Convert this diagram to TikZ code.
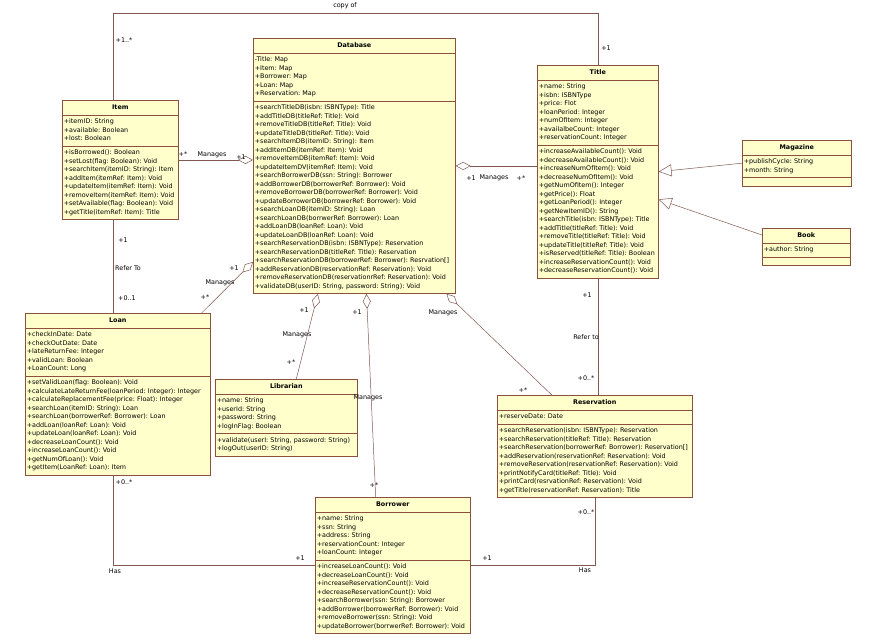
\documentclass[tikz,border=0pt]{standalone}
\usepackage{fontspec}
\setmainfont{DejaVu Sans}
\usetikzlibrary{shapes.multipart,arrows.meta,calc}
\definecolor{umlfill}{RGB}{255,255,204}
\definecolor{umlline}{RGB}{140,80,60}
\definecolor{linkcol}{RGB}{128,90,80}
\newcommand{\cname}[1]{\hbox to\hsize{\hfil\rule[-2.5pt]{0pt}{9pt}\textbf{#1}\hfil}}
\frenchspacing
\begin{document}
\begin{tikzpicture}[x=1pt,y=-1pt,font=\fontsize{6.4}{8.5}\selectfont,
  cls/.style={rectangle split,rectangle split parts=3,draw=umlline,fill=umlfill,
    anchor=north west,inner xsep=1.5pt,inner ysep=2.5pt,align=left,line width=0.6pt},
  link/.style={draw=linkcol,line width=0.5pt},
  agg/.style={link,{Diamond[open,length=15pt,width=8pt]}-},
  gen/.style={link,-{Triangle[open,length=13pt,width=12pt]}},
  lbl/.style={inner sep=1pt}]
  \fill[white] (0,0) rectangle (870,642);
  \useasboundingbox (0,0) rectangle (870,642);
  % classes
  \node[cls,text width=199pt] (db) at (253,38) {\cname{Database}
    \nodepart{two}\strut-Title: Map\\+Item: Map\\+Borrower: Map\\+Loan: Map\\+Reservation: Map\strut
    \nodepart{three}\strut+searchTitleDB(isbn: ISBNType): Title\\+addTitleDB(titleRef: Title): Void\\
    +removeTitleDB(titleRef: Title): Void\\+updateTitleDB(titleRef: Title): Void\\
    +searchItemDB(itemID: String): Item\\+addItemDB(itemRef: Item): Void\\
    +removeItemDB(itemRef: Item): Void\\+updateItemDV(itemRef: Item): Void\\
    +searchBorrowerDB(ssn: String): Borrower\\+addBorrowerDB(borrowerRef: Borrower): Void\\
    +removeBorrowerDB(borrowerRef: Borrower): Void\\+updateBorrowerDB(borrowerRef: Borrower): Void\\
    +searchLoanDB(itemID: String): Loan\\+searchLoanDB(borrwerRef: Borrower): Loan\\
    +addLoanDB(loanRef: Loan): Void\\+updateLoanDB(loanRef: Loan): Void\\
    +searchReservationDB(isbn: ISBNType): Reservation\\+searchReservationDB(titleRef: Title): Reservation\\
    +searchReservationDB(borrowerRef: Borrower): Resrvation[]\\
    +addReservationDB(reservationRef: Reservation): Void\\
    +removeReservationDB(reservationrRef: Reservation): Void\\
    +validateDB(userID: String, password: String): Void\strut};
  \node[cls,text width=118pt] (title) at (537,65) {\cname{Title}
    \nodepart{two}\strut+name: String\\+isbn: ISBNType\\+price: Flot\\+loanPeriod: Integer\\
    +numOfItem: Integer\\+availalbeCount: Integer\\+reservationCount: Integer\strut
    \nodepart{three}\strut+increaseAvailableCount(): Void\\+decreaseAvailableCount(): Void\\
    +increaseNumOfItem(): Void\\+decreaseNumOfItem(): Void\\+getNumOfItem(): Integer\\
    +getPrice(): Float\\+getLoanPeriod(): Integer\\+getNewItemID(): String\\
    +searchTitle(isbn: ISBNType): Title\\+addTitle(titleRef: Title): Void\\
    +removeTitle(titleRef: Title): Void\\+updateTitle(titleRef: Title): Void\\
    +isReserved(titleRef: Title): Boolean\\+increaseReservationCount(): Void\\
    +decreaseReservationCount(): Void\strut};
  \node[cls,text width=113pt] (item) at (62,100) {\cname{Item}
    \nodepart{two}\strut+itemID: String\\+available: Boolean\\+lost: Boolean\strut
    \nodepart{three}\strut+isBorrowed(): Boolean\\+setLost(flag: Boolean): Void\\
    +searchItem(itemID: String): Item\\+addItem(itemRef: Item): Void\\
    +updateItem(itemRef: Item): Void\\+removeItem(itemRef: Item): Void\\
    +setAvailable(flag: Boolean): Void\\+getTitle(itemRef: Item): Title\strut};
  \node[cls,text width=182pt] (loan) at (25,313) {\cname{Loan}
    \nodepart{two}\strut+checkInDate: Date\\+checkOutDate: Date\\+lateReturnFee: Integer\\
    +validLoan: Boolean\\+LoanCount: Long\strut
    \nodepart{three}\strut+setValidLoan(flag: Boolean): Void\\
    +calculateLateReturnFee(loanPeriod: Integer): Integer\\
    +calculateReplacementFee(price: Float): Integer\\+searchLoan(itemID: String): Loan\\
    +searchLoan(borrowerRef: Borrower): Loan\\+addLoan(loanRef: Loan): Void\\
    +updateLoan(loanRef: Loan): Void\\+decreaseLoanCount(): Void\\
    +increaseLoanCount(): Void\\+getNumOfLoan(): Void\\+getItem(LoanRef: Loan): Item\strut};
  \node[cls,text width=139pt] (lib) at (215,379) {\cname{Librarian}
    \nodepart{two}\strut+name: String\\+userId: String\\+password: String\\+logInFlag: Boolean\strut
    \nodepart{three}\strut+validate(userI: String, password: String)\\+logOut(userID: String)\strut};
  \node[cls,text width=192pt] (res) at (497,395) {\cname{Reservation}
    \nodepart{two}\strut+reserveDate: Date\strut
    \nodepart{three}\strut+searchReservation(isbn: ISBNType): Reservation\\
    +searchReservation(titleRef: Title): Reservation\\
    +searchReservation(borrowerRef: Borrower): Reservation[]\\
    +addReservation(reservationRef: Reservation): Void\\
    +removeReservation(reservationRef: Reservation): Void\\
    +printNotifyCard(titleRef: Title): Void\\+printCard(resrvationRef: Reservation): Void\\
    +getTitle(reservationRef: Reservation): Title\strut};
  \node[cls,text width=152pt] (bor) at (315,497) {\cname{Borrower}
    \nodepart{two}\strut+name: String\\+ssn: String\\+address: String\\
    +reservationCount: Integer\\+loanCount: Integer\strut
    \nodepart{three}\strut+increaseLoanCount(): Void\\+decreaseLoanCount(): Void\\
    +increaseReservationCount(): Void\\+decreaseReservationCount(): Void\\
    +searchBorrower(ssn: String): Borrower\\+addBorrower(borrowerRef: Borrower): Void\\
    +removeBorrower(ssn: String): Void\\+updateBorrower(borrwerRef: Borrower): Void\strut};
  \node[cls,text width=106pt] (mag) at (742,140) {\cname{Magazine}
    \nodepart{two}\strut+publishCycle: String\\+month: String\strut
    \nodepart{three}\rule{0pt}{3pt}};
  \node[cls,text width=85pt] (book) at (762,228) {\cname{Book}
    \nodepart{two}\strut+author: String\strut
    \nodepart{three}\rule{0pt}{3pt}};
  % connectors
  \coordinate (top) at (0,13);
  \coordinate (il) at ([xshift=51pt]item.south west);
  \coordinate (it) at ([xshift=51pt]item.north west);
  \coordinate (lb) at ([xshift=88pt]loan.south west);
  \draw[link] (it) |- (title.north |- top) -- (title.north);
  \draw[link] (il) -- (il |- loan.north);
  \draw[link] (lb) |- (bor.west);
  \draw[link] (res.south) |- (bor.east);
  \draw[link] (title.south) -- (title.south |- res.north);
  \draw[agg] (item.east -| db.west) -- (item.east);
  \draw[agg] (db.east) -- (db.east -| title.west);
  \draw[agg] ($(db.north west)!0.875!(db.south west)$) -- ([xshift=-9pt]loan.north east);
  \draw[agg] ($(db.south west)!0.32!(db.south east)$) -- ($(lib.north west)!0.57!(lib.north east)$);
  \draw[agg] ($(db.south west)!0.56!(db.south east)$) -- ($(bor.north west)!0.39!(bor.north east)$);
  \draw[agg] ($(db.south west)!0.955!(db.south east)$) -- ($(res.north west)!0.28!(res.north east)$);
  \draw[gen] (mag.west) -- (title.east);
  \draw[gen] ([yshift=-7pt]book.north west) -- ($(title.north east)!0.63!(title.south east)$);
  % labels
  \foreach \n/\p/\t in {copy/{345,6}/copy of,c1/{124,40}/+1..*,c2/{606,48}/+1,
    m1/{183,154}/+*,m2/{212,155}/Manages,m3/{241,157}/+1,
    t1/{471,178}/+1,t2/{494,178}/Manages,t3/{521,178}/+*,
    r1/{123,240}/+1,r2/{128,268}/Refer To,r3/{127,298}/+0..1,
    l1/{234,268}/+1,l2/{220,283}/Manages,l3/{205,297}/+*,
    b1/{304,310}/+1,b2/{297,335}/Manages,b3/{291,362}/+*,
    w1/{357,312}/+1,w2/{368,398}/Manages,w3/{374,485}/+*,
    s1/{443,313}/Manages,s2/{523,390}/+*,
    f1/{587,295}/+1,f2/{586,337}/Refer to,f3/{586,378}/+0..*,
    h1/{124,482}/+0..*,h2/{115,571}/Has,h3/{300,558}/+1,
    k1/{586,512}/+0..*,k2/{585,570}/Has,k3/{487,558}/+1}{
    \node[lbl] (\n) at (\p) {\t};
  }
\end{tikzpicture}
\end{document}
